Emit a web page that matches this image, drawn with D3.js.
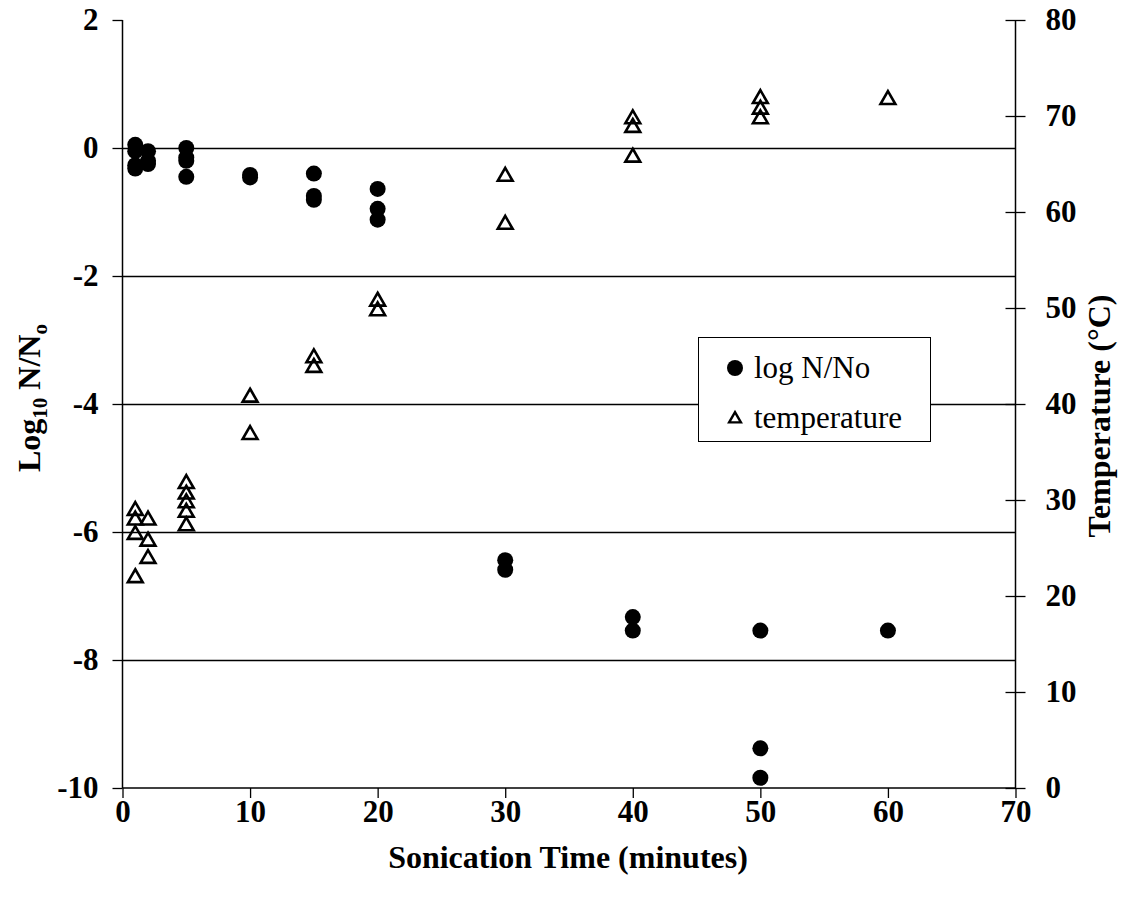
<!DOCTYPE html>
<html><head><meta charset="utf-8">
<script src="https://cdn.jsdelivr.net/npm/d3@7/dist/d3.min.js"></script>
<style>body{margin:0;background:#fff}svg{display:block}</style>
</head><body>
<script>
// Data
const logTimes = [1,1,1,1, 2,2,2, 5,5,5,5, 10,10, 15,15,15, 20,20,20, 30,30, 40,40, 50,50,50, 60];
const logValues = [0.05,-0.05,-0.27,-0.32, -0.05,-0.2,-0.25, 0,-0.15,-0.2,-0.45, -0.42,-0.46, -0.4,-0.75,-0.81, -0.64,-0.95,-1.12, -6.44,-6.59, -7.33,-7.54, -7.54,-9.38,-9.84, -7.54];
const tempTimes = [1,1,1,1, 2,2,2, 5,5,5,5,5, 10,10, 15,15, 20,20, 30,30, 40,40,40, 50,50,50, 60];
const tempValues = [29,28,26.5,22, 28,25.8,24, 31.8,30.7,29.8,28.8,27.4, 40.8,36.9, 44.9,43.9, 50.8,49.8, 63.8,58.8, 69.8,68.9,65.8, 71.9,70.8,69.8, 71.8];
const xTicks = [0,10,20,30,40,50,60,70];
const yLeftTicks = [2,0,-2,-4,-6,-8,-10];
const yRightTicks = [80,70,60,50,40,30,20,10,0];
const gridValues = [0,-2,-4,-6,-8];
const legendItems = ["log N/No","temperature"];

const W=1122,H=903;
const svg=d3.select("body").append("svg").attr("width",W).attr("height",H);
const x=d3.scaleLinear().domain([0,70]).range([122.5,1015.5]);
const yL=d3.scaleLinear().domain([-10,2]).range([788,20]);
const yR=d3.scaleLinear().domain([0,80]).range([788,20]);
const font="'Liberation Serif','Times New Roman',serif";
const fmt=d=>String(d);

// gridlines
svg.append("g").selectAll("line").data(gridValues).join("line")
  .attr("x1",x(0)).attr("x2",x(70)).attr("y1",d=>Math.round(yL(d))+0.5).attr("y2",d=>Math.round(yL(d))+0.5)
  .attr("stroke","#000").attr("stroke-width",1.3);

// axes
const gx=svg.append("g").attr("transform",`translate(0,${yL(-10)})`)
  .call(d3.axisBottom(x).tickValues(xTicks).tickSize(10).tickPadding(2).tickFormat(fmt));
const gl=svg.append("g").attr("transform",`translate(${x(0)},0)`)
  .call(d3.axisLeft(yL).tickValues(yLeftTicks).tickSize(10).tickPadding(12).tickFormat(fmt));
const gr=svg.append("g").attr("transform",`translate(${x(70)},0)`)
  .call(d3.axisRight(yR).tickValues(yRightTicks).tickSize(10).tickPadding(20).tickFormat(fmt));
gr.selectAll(".tick line").attr("x1",-10);
[gx,gl,gr].forEach(g=>{
  g.select(".domain").remove();
  g.selectAll(".tick line").attr("stroke","#000").attr("stroke-width",1.3);
  g.selectAll("text").attr("font-family",font).attr("font-weight","bold").attr("font-size",31).attr("fill","#000");
});
gl.selectAll("text").attr("dx",-2);
// axis lines
svg.append("line").attr("x1",x(0)).attr("x2",x(70)).attr("y1",yL(-10)).attr("y2",yL(-10)).attr("stroke","#000").attr("stroke-width",1.5);
svg.append("line").attr("x1",x(0)).attr("x2",x(0)).attr("y1",yL(2)).attr("y2",yL(-10)).attr("stroke","#000").attr("stroke-width",1.5);
svg.append("line").attr("x1",x(70)).attr("x2",x(70)).attr("y1",yR(80)).attr("y2",yR(0)).attr("stroke","#000").attr("stroke-width",1.5);

// triangles
const tri=d3.symbol().type(d3.symbolTriangle).size(95);
svg.append("g").selectAll("path").data(tempTimes.map((t,i)=>[t,tempValues[i]])).join("path")
  .attr("d",tri).attr("transform",d=>`translate(${x(d[0])},${yR(d[1])+1})`)
  .attr("fill","none").attr("stroke","#000").attr("stroke-width",2.6).attr("stroke-linejoin","miter");
// circles
svg.append("g").selectAll("circle").data(logTimes.map((t,i)=>[t,logValues[i]])).join("circle")
  .attr("cx",d=>x(d[0])).attr("cy",d=>yL(d[1])).attr("r",8).attr("fill","#000");

// legend
const lg=svg.append("g");
lg.append("rect").attr("x",698.5).attr("y",337.5).attr("width",232).attr("height",104).attr("fill","#fff").attr("stroke","#000").attr("stroke-width",1);
lg.append("circle").attr("cx",735).attr("cy",368).attr("r",8).attr("fill","#000");
lg.append("path").attr("d",d3.symbol().type(d3.symbolTriangle).size(60)).attr("transform","translate(735,419)")
  .attr("fill","none").attr("stroke","#000").attr("stroke-width",2.4);
lg.selectAll("text").data(legendItems).join("text").attr("x",754).attr("y",(d,i)=>378+i*50)
  .attr("font-family",font).attr("font-size",31).attr("fill","#000").text(d=>d);

// titles
svg.append("text").attr("x",568).attr("y",868).attr("text-anchor","middle")
  .attr("font-family",font).attr("font-weight","bold").attr("font-size",32).text("Sonication Time (minutes)");
const ty=svg.append("text").attr("transform","translate(40,398) rotate(-90)").attr("text-anchor","middle")
  .attr("font-family",font).attr("font-weight","bold").attr("font-size",32);
ty.append("tspan").text("Log");
ty.append("tspan").attr("font-size",21).attr("dy",7).text("10");
ty.append("tspan").attr("dy",-7).text(" N/N");
ty.append("tspan").attr("font-size",21).attr("dy",7).text("o");
svg.append("text").attr("transform","translate(1110,416) rotate(-90)").attr("text-anchor","middle")
  .attr("font-family",font).attr("font-weight","bold").attr("font-size",32).text("Temperature (°C)");
</script>
</body></html>
